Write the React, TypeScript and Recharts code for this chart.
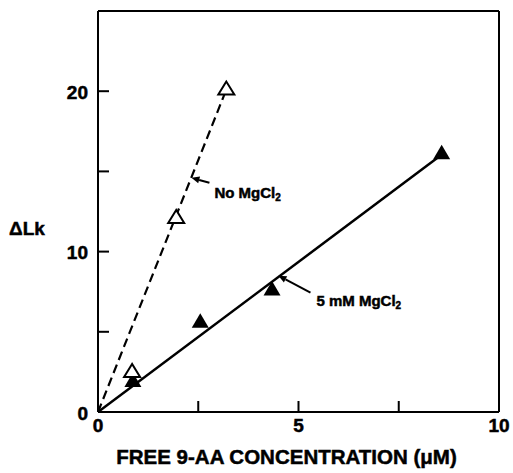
import { ScatterChart, Scatter, XAxis, YAxis } from 'recharts'

// open triangles, no MgCl2
const NO_MG_X = [0.85, 1.95, 3.2]
const NO_MG_Y = [2.5, 12.1, 20.1]
// filled triangles, 5 mM MgCl2
const MG_X = [0.87, 2.55, 4.34, 8.57]
const MG_Y = [1.9, 5.6, 7.6, 16.1]
// straight lines through the origin
const NO_MG_FIT_X = [0, 3.2]
const NO_MG_FIT_Y = [0, 20.1]
const MG_FIT_X = [0, 8.55]
const MG_FIT_Y = [0, 16.0]

const X_TICKS = [0, 2.5, 5, 7.5, 10]
const X_TICK_LABELS = [0, 5, 10]
const Y_TICKS = [0, 5, 10, 15, 20, 25]
const Y_TICK_LABELS = [0, 10, 20]

// arrow notes: where the arrow touches the line
const NOTE_X = [2.33, 4.5]
const NOTE_Y = [14.6, 8.5]
const NOTE_TEXT = ['No MgCl', '5 mM MgCl']
const NOTE_SUB = ['2', '2']

const FONT = '"Liberation Sans", Arial, Helvetica, sans-serif'
const TICK = 11
// pixel offsets of each note from its arrow tip: arrow tail, text start
const NOTE_LAYOUT = [
  { tail: [18, 5], text: [23, 15] },
  { tail: [32, 17], text: [38, 25] },
]

const zip = (xs: number[], ys: number[]) => xs.map((x, i) => ({ x, y: ys[i] }))
const noMg = zip(NO_MG_X, NO_MG_Y)
const mg = zip(MG_X, MG_Y)
const noMgFit = zip(NO_MG_FIT_X, NO_MG_FIT_Y)
const mgFit = zip(MG_FIT_X, MG_FIT_Y)
const notes = NOTE_X.map((x, i) => ({ x, y: NOTE_Y[i], text: NOTE_TEXT[i], sub: NOTE_SUB[i], idx: i }))

// heavy type, like the original print
const labelStyle = { fontFamily: FONT, fontWeight: 700, fill: '#000', stroke: '#000', strokeWidth: 0.5 }

function BottomTick({ x, y, payload }: any) {
  return (
    <g>
      <line x1={x} y1={y} x2={x} y2={y - TICK} stroke="#000" strokeWidth={2} />
      {X_TICK_LABELS.includes(payload.value) && (
        <text x={x} y={y + 13} textAnchor="middle" dominantBaseline="central" fontSize={19} {...labelStyle}>
          {payload.value}
        </text>
      )}
    </g>
  )
}

function TopTick({ x, y }: any) {
  return <line x1={x} y1={y} x2={x} y2={y + TICK} stroke="#000" strokeWidth={2} />
}

function LeftTick({ x, y, payload }: any) {
  return (
    <g>
      <line x1={x} y1={y} x2={x + TICK} y2={y} stroke="#000" strokeWidth={2} />
      {Y_TICK_LABELS.includes(payload.value) && (
        <text x={x - 10} y={y + 1} textAnchor="end" dominantBaseline="central" fontSize={19} {...labelStyle}>
          {payload.value}
        </text>
      )}
    </g>
  )
}

function RightTick({ x, y }: any) {
  return <line x1={x} y1={y} x2={x - TICK} y2={y} stroke="#000" strokeWidth={2} />
}

function OpenTriangle({ cx, cy }: any) {
  return (
    <polygon
      points={`${cx},${cy - 8} ${cx - 8},${cy + 5} ${cx + 8},${cy + 5}`}
      fill="#fff"
      stroke="#000"
      strokeWidth={2}
    />
  )
}

function FilledTriangle({ cx, cy }: any) {
  return <polygon points={`${cx},${cy - 9} ${cx - 8.5},${cy + 5.5} ${cx + 8.5},${cy + 5.5}`} fill="#000" />
}

function Note({ cx, cy, payload }: any) {
  const lay = NOTE_LAYOUT[payload.idx]
  const tx = cx + lay.tail[0]
  const ty = cy + lay.tail[1]
  const len = Math.hypot(tx - cx, ty - cy)
  const ux = (cx - tx) / len
  const uy = (cy - ty) / len
  const bx = cx - ux * 8
  const by = cy - uy * 8
  return (
    <g>
      <line x1={tx} y1={ty} x2={bx} y2={by} stroke="#000" strokeWidth={2} />
      <polygon
        points={`${cx},${cy} ${bx - uy * 3.5},${by + ux * 3.5} ${bx + uy * 3.5},${by - ux * 3.5}`}
        fill="#000"
      />
      <text x={cx + lay.text[0]} y={cy + lay.text[1]} dominantBaseline="central" fontSize={15} {...labelStyle}>
        {payload.text}
        <tspan fontSize={10} dy={4}>{payload.sub}</tspan>
      </text>
    </g>
  )
}

function XTitle({ viewBox }: any) {
  return (
    <text
      x={viewBox.x + viewBox.width / 2 - 12}
      y={viewBox.y + 44}
      textAnchor="middle"
      dominantBaseline="central"
      fontSize={20.5}
      {...labelStyle}
    >
      FREE 9-AA CONCENTRATION (μM)
    </text>
  )
}

function YTitle({ viewBox }: any) {
  return (
    <text x={viewBox.x - 70} y={viewBox.y + 217} textAnchor="middle" dominantBaseline="central" fontSize={19} {...labelStyle}>
      ΔLk
    </text>
  )
}

const axisLine = { stroke: '#000', strokeWidth: 2 }

export default function App() {
  return (
    <div style={{ position: 'absolute', left: 0, top: 0, background: '#fff' }}>
      <ScatterChart width={513} height={473} margin={{ top: 10, right: 13, bottom: 60, left: 97 }}>
        <XAxis
          xAxisId="bottom"
          type="number"
          dataKey="x"
          domain={[0, 10]}
          ticks={X_TICKS}
          interval={0}
          height={1}
          tickSize={0}
          tickMargin={0}
          tickLine={false}
          axisLine={axisLine}
          tick={BottomTick}
          label={XTitle}
        />
        <XAxis
          xAxisId="top"
          orientation="top"
          type="number"
          dataKey="x"
          domain={[0, 10]}
          ticks={X_TICKS}
          interval={0}
          height={1}
          tickSize={0}
          tickMargin={0}
          tickLine={false}
          axisLine={axisLine}
          tick={TopTick}
        />
        <YAxis
          yAxisId="left"
          type="number"
          dataKey="y"
          domain={[0, 25]}
          ticks={Y_TICKS}
          interval={0}
          width={1}
          tickSize={0}
          tickMargin={0}
          tickLine={false}
          axisLine={axisLine}
          tick={LeftTick}
          label={YTitle}
        />
        <YAxis
          yAxisId="right"
          orientation="right"
          type="number"
          dataKey="y"
          domain={[0, 25]}
          ticks={Y_TICKS}
          interval={0}
          width={1}
          tickSize={0}
          tickMargin={0}
          tickLine={false}
          axisLine={axisLine}
          tick={RightTick}
        />
        <Scatter
          xAxisId="bottom"
          yAxisId="left"
          data={noMgFit}
          line={{ stroke: '#000', strokeWidth: 2.2, strokeDasharray: '9 5' }}
          shape={() => <g />}
          isAnimationActive={false}
        />
        <Scatter
          xAxisId="bottom"
          yAxisId="left"
          data={mgFit}
          line={{ stroke: '#000', strokeWidth: 2.5 }}
          shape={() => <g />}
          isAnimationActive={false}
        />
        <Scatter xAxisId="bottom" yAxisId="left" data={mg} shape={FilledTriangle} isAnimationActive={false} />
        <Scatter xAxisId="bottom" yAxisId="left" data={noMg} shape={OpenTriangle} isAnimationActive={false} />
        <Scatter xAxisId="bottom" yAxisId="left" data={notes} shape={Note} isAnimationActive={false} />
      </ScatterChart>
    </div>
  )
}
